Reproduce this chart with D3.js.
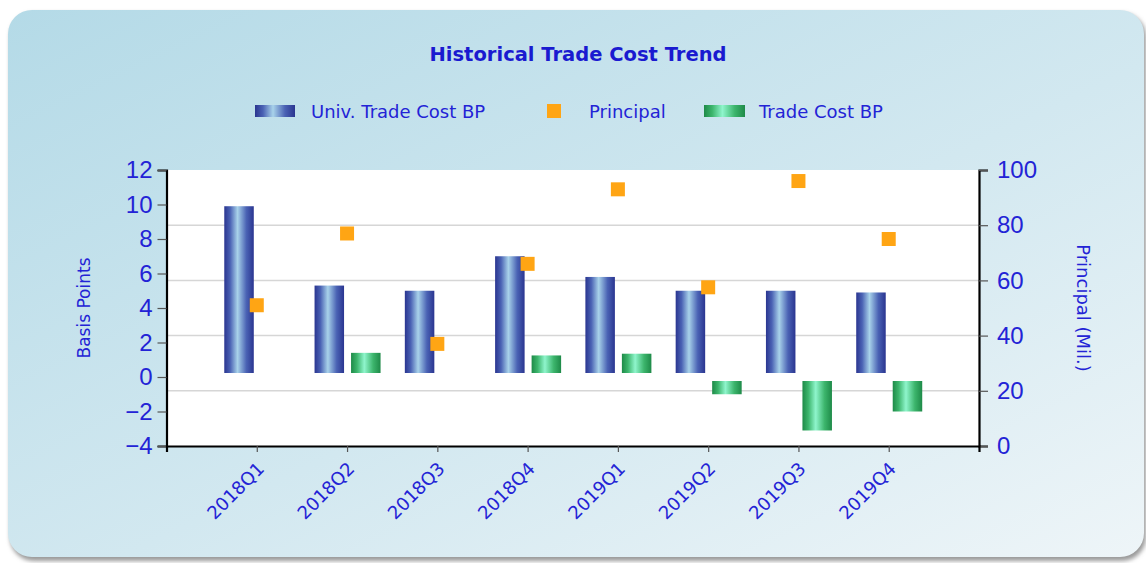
<!DOCTYPE html>
<html>
<head>
    <meta charset='utf-8'>
    <title>Historical Trade Cost Trend</title>
    <style>
    body {
      margin: 0;
      background: #ffffff;
    }
    text {
      font-family: 'DejaVu Sans', 'Noto Sans', sans-serif;
    }
    .tick-num {
      font-family: 'Liberation Sans', Arial, sans-serif;
    }
    </style>
    <script src='https://d3js.org/d3.v7.min.js'></script>
</head>
<body>
<div id="container"></div>
<script>
// ******* Data *******
const categories = ["2018Q1", "2018Q2", "2018Q3", "2018Q4", "2019Q1", "2019Q2", "2019Q3", "2019Q4"];
const univTradeCostBP = [9.9, 5.3, 5.0, 7.0, 5.8, 5.0, 5.0, 4.9];
const tradeCostBP = [null, 1.4, null, 1.25, 1.35, -1.0, -3.1, -2.0];
const principal = [51, 77, 37, 66, 93, 57.5, 96, 75];
const leftTicks = [-4, -2, 0, 2, 4, 6, 8, 10, 12];
const rightTicks = [0, 20, 40, 60, 80, 100];

// ******* Constants *******
const width = 1146,
      height = 563,
      plot = { left: 166.5, right: 979, top: 170, bottom: 446 };
const blue = "#2323d6";

var svg = d3.select("#container").append("svg")
    .attr("width", width)
    .attr("height", height)
    .style("display", "block");

var defs = svg.append("defs");

// panel background
var bg = defs.append("linearGradient").attr("id", "panelGrad")
    .attr("x1", "0%").attr("y1", "0%").attr("x2", "100%").attr("y2", "100%");
bg.append("stop").attr("offset", "0%").attr("stop-color", "#b4dae7");
bg.append("stop").attr("offset", "55%").attr("stop-color", "#d2e8f0");
bg.append("stop").attr("offset", "100%").attr("stop-color", "#eef5f8");

// cylinder-like bar fills
function barGradient(id, dark, mid, light) {
  var g = defs.append("linearGradient").attr("id", id)
      .attr("x1", "0%").attr("y1", "0%").attr("x2", "100%").attr("y2", "0%");
  g.append("stop").attr("offset", "0%").attr("stop-color", dark);
  g.append("stop").attr("offset", "20%").attr("stop-color", mid);
  g.append("stop").attr("offset", "45%").attr("stop-color", light);
  g.append("stop").attr("offset", "75%").attr("stop-color", mid);
  g.append("stop").attr("offset", "100%").attr("stop-color", dark);
}
barGradient("blueBar", "#2a3590", "#4a62b4", "#a8d2ea");
barGradient("greenBar", "#1e8a48", "#3cb56c", "#8ff5cc");

var blur = defs.append("filter").attr("id", "shadow");
blur.append("feGaussianBlur").attr("stdDeviation", 2);

svg.append("rect")
    .attr("x", 10).attr("y", 13)
    .attr("width", 1136).attr("height", 548)
    .attr("rx", 24)
    .attr("fill", "#9a9a9a")
    .attr("filter", "url(#shadow)");

svg.append("rect")
    .attr("x", 8).attr("y", 10)
    .attr("width", 1136).attr("height", 547)
    .attr("rx", 24)
    .attr("fill", "url(#panelGrad)");

// ******* Title & legend *******
svg.append("text")
    .attr("x", 578).attr("y", 61)
    .attr("text-anchor", "middle")
    .attr("font-size", 19.5)
    .attr("font-weight", "bold")
    .attr("fill", "#1a1ad0")
    .text("Historical Trade Cost Trend");

var legend = svg.append("g").attr("transform", "translate(0,111)");
legend.append("rect").attr("x", 255).attr("y", -6).attr("width", 40).attr("height", 12)
    .attr("fill", "url(#blueBar)");
legend.append("text").attr("x", 311).attr("y", 6.5).attr("font-size", 18)
    .attr("fill", blue).text("Univ. Trade Cost BP");
legend.append("rect").attr("x", 547).attr("y", -7).attr("width", 14).attr("height", 14)
    .attr("fill", "#ffa514");
legend.append("text").attr("x", 589).attr("y", 6.5).attr("font-size", 18)
    .attr("fill", blue).text("Principal");
legend.append("rect").attr("x", 704).attr("y", -6).attr("width", 41).attr("height", 12)
    .attr("fill", "url(#greenBar)");
legend.append("text").attr("x", 759).attr("y", 6.5).attr("font-size", 18)
    .attr("fill", blue).text("Trade Cost BP");

// ******* Scales *******
var x = d3.scalePoint()
    .domain(categories)
    .range([plot.left, plot.right])
    .padding(1);
var y = d3.scaleLinear()
    .domain([-4, 12])
    .range([plot.bottom, plot.top]);
var y2 = d3.scaleLinear()
    .domain([0, 100])
    .range([plot.bottom, plot.top]);

// ******* Plot area *******
svg.append("rect")
    .attr("x", plot.left).attr("y", plot.top)
    .attr("width", plot.right - plot.left).attr("height", plot.bottom - plot.top)
    .attr("fill", "#ffffff");

svg.append("g").selectAll("line")
    .data(rightTicks.filter(function(d) { return d > 0 && d < 100; }))
    .join("line")
    .attr("x1", plot.left).attr("x2", plot.right)
    .attr("y1", function(d) { return y2(d); })
    .attr("y2", function(d) { return y2(d); })
    .attr("stroke", "#d6d6d6")
    .attr("stroke-width", 1.5);

// ******* Bars *******
var zero = y(0);
svg.append("g").selectAll("rect")
    .data(categories.map(function(c, i) { return { c: c, v: univTradeCostBP[i] }; }))
    .join("rect")
    .attr("x", function(d) { return x(d.c) - 32.5; })
    .attr("width", 29.5)
    .attr("y", function(d) { return y(d.v); })
    .attr("height", function(d) { return zero - 4 - y(d.v); })
    .attr("fill", "url(#blueBar)");

svg.append("g").selectAll("rect")
    .data(categories.map(function(c, i) { return { c: c, v: tradeCostBP[i] }; })
      .filter(function(d) { return d.v !== null; }))
    .join("rect")
    .attr("x", function(d) { return x(d.c) + 4; })
    .attr("width", 29.5)
    .attr("y", function(d) { return d.v >= 0 ? y(d.v) : zero + 4; })
    .attr("height", function(d) { return d.v >= 0 ? zero - 4 - y(d.v) : y(d.v) - zero - 4; })
    .attr("fill", "url(#greenBar)");

// ******* Principal markers *******
svg.append("g").selectAll("rect")
    .data(categories.map(function(c, i) { return { c: c, v: principal[i] }; }))
    .join("rect")
    .attr("x", function(d) { return x(d.c) - 7; })
    .attr("y", function(d) { return y2(d.v) - 7; })
    .attr("width", 14).attr("height", 14)
    .attr("fill", "#ffa514");

// ******* Axes *******
function styleAxis(g) {
  g.select(".domain").attr("stroke", "#000").attr("stroke-width", 2.2);
  g.selectAll(".tick line").attr("stroke", "#555").attr("stroke-width", 1.2);
}

svg.append("g")
    .attr("transform", `translate(${plot.left},0)`)
    .call(d3.axisLeft(y).tickValues(leftTicks).tickSize(9).tickSizeOuter(9).tickPadding(5))
    .call(styleAxis)
    .call(function(g) {
      g.selectAll(".tick text")
        .attr("class", "tick-num")
        .attr("font-size", 24)
        .attr("fill", blue);
    });

svg.append("g")
    .attr("transform", `translate(${plot.right},0)`)
    .call(d3.axisRight(y2).tickValues(rightTicks).tickSize(9).tickSizeOuter(9).tickPadding(9))
    .call(styleAxis)
    .call(function(g) {
      g.selectAll(".tick text")
        .attr("class", "tick-num")
        .attr("font-size", 24)
        .attr("fill", blue);
    });

svg.append("g")
    .attr("transform", `translate(0,${plot.bottom})`)
    .call(d3.axisBottom(x).tickSize(6).tickSizeOuter(6))
    .call(styleAxis)
    .call(function(g) {
      g.selectAll(".tick text")
        .attr("font-size", 18)
        .attr("fill", blue)
        .attr("text-anchor", "end")
        .attr("dy", null)
        .attr("y", 0)
        .attr("transform", "translate(8,24) rotate(-45)");
    });

// ******* Axis titles *******
svg.append("text")
    .attr("transform", "translate(90,308) rotate(-90)")
    .attr("text-anchor", "middle")
    .attr("font-size", 17)
    .attr("fill", blue)
    .text("Basis Points");

svg.append("text")
    .attr("transform", "translate(1077,308) rotate(90)")
    .attr("text-anchor", "middle")
    .attr("font-size", 18)
    .attr("fill", blue)
    .text("Principal (Mil.)");
</script>
</body>
</html>
